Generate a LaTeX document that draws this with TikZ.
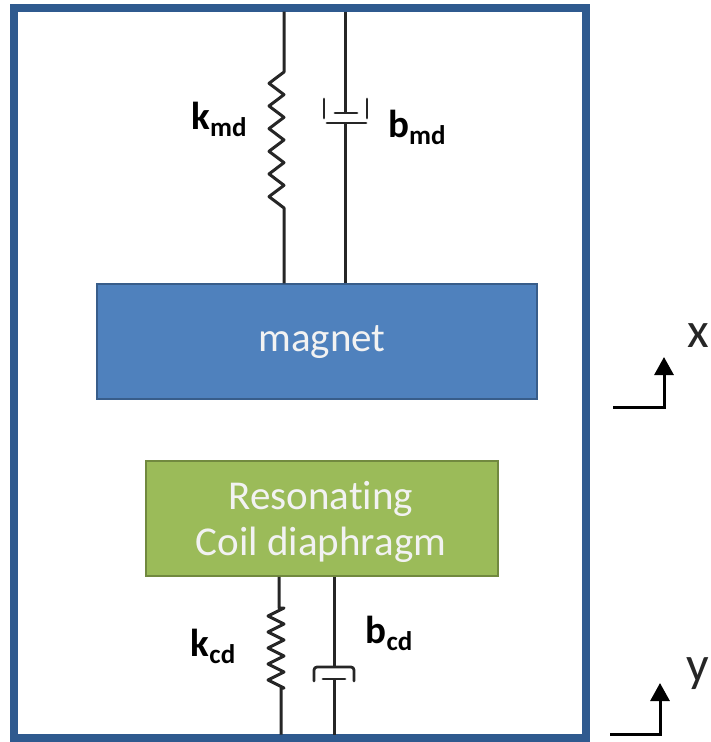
\documentclass[tikz,border=0pt]{standalone}
\usepackage{fontspec}
\setmainfont{Carlito}[Ligatures=CommonOff]
\usetikzlibrary{arrows.meta}
\definecolor{framecol}{HTML}{2F5A8F}
\definecolor{magnetcol}{HTML}{4F81BD}
\definecolor{magnetline}{HTML}{385D8A}
\definecolor{coilcol}{HTML}{9BBB59}
\definecolor{coilline}{HTML}{71893F}
\newcommand{\sublabel}[2]{\textbf{#1\raisebox{-7pt}{\fontsize{27}{27}\selectfont #2}}}
\tikzset{
	framebox/.style={draw=framecol,line width=8pt,minimum width=572.5pt,minimum height=730pt,inner sep=0,outer sep=-3.5pt},
	block/.style={line width=1.5pt,inner sep=0},
	blocktext/.style={inner sep=0,text=white!95!black,align=center,font=\fontsize{41}{46}\selectfont},
	edge/.style={color=black!85,line width=3pt,line join=round},
	thinedge/.style={color=black!85,line width=2.8pt,line cap=round,line join=round},
	axisedge/.style={->,>={Triangle[width=19pt,length=18pt]},color=black,line width=3pt,line join=miter},
	symlabel/.style={inner sep=0,font=\fontsize{39}{39}\selectfont},
	axislabel/.style={inner sep=0,font=\fontsize{50}{50}\selectfont,color=black!85}
}
\begin{document}
\begin{tikzpicture}[x=1pt,y=-1pt]
	\useasboundingbox (0,0) rectangle (711,742);
	
	\node[framebox] (Frame) at (299.75,373) {};
	\node[block,fill=magnetcol,draw=magnetline,minimum width=440pt,minimum height=115pt] (Magnet) at (317,341.5) {};
	\node[block,fill=coilcol,draw=coilline,minimum width=352pt,minimum height=115pt] (Coil) at (322,518.5) {};
	\node[blocktext] (MagnetText) at (322,342) {magnet};
	\node[blocktext] (CoilText) at (321,522) {Resonating\\Coil diaphragm};
	
	\node[symlabel] (Kmd) at (219,119) {\sublabel{k}{md}};
	\node[symlabel] (Bmd) at (417,127) {\sublabel{b}{md}};
	\node[symlabel] (Kcd) at (213,646) {\sublabel{k}{cd}};
	\node[symlabel] (Bcd) at (389,633) {\sublabel{b}{cd}};
	\node[axislabel] (X) at (698,336) {x};
	\node[axislabel] (Y) at (698,674) {y};
	
	\coordinate (KmdA) at (284,72);
	\coordinate (KmdB) at (284,208);
	\coordinate (BmdA) at (345,113);
	\coordinate (BmdB) at (345,123);
	\coordinate (KcdA) at (284,608);
	\coordinate (KcdB) at (281,688);
	\coordinate (BcdA) at (334,667);
	\coordinate (BcdB) at (334,679);
	
	\draw[edge] (Frame.north -| KmdA) -- (KmdA) foreach \i in {1,...,6} { -- ++(-15,11.33) -- ++(15,11.33)} -- (Magnet.north -| KmdB);
	\draw[edge] (Frame.north -| BmdA) -- (BmdA);
	\draw[edge] (BmdB) -- (Magnet.north -| BmdB);
	\draw[thinedge] (335,113) -- (357,113);
	\draw[thinedge] (324,99) -- (324,118);
	\draw[thinedge] (367,99) -- (367,118);
	\draw[thinedge] (327,123) -- (366,123);
	
	\draw[edge] (Coil.south -| 279,0) -- (279,608) -- (KcdA) foreach \i in {1,...,5} { -- ++(-16,8) -- ++(16,8)} -- (KcdB) -- (Frame.south -| KcdB);
	\draw[edge] (Coil.south -| BcdA) -- (BcdA);
	\draw[edge] (BcdB) -- (Frame.south -| BcdB);
	\draw[thinedge,rounded corners=3pt] (314,681) -- (314,667) -- (354,667) -- (354,681);
	\draw[thinedge] (323,679) -- (345,679);
	
	\coordinate (XA) at (613,407);
	\coordinate (XB) at (664,357);
	\coordinate (YA) at (610,734);
	\coordinate (YB) at (660,683);
	\draw[axisedge] (XA) -- (XA -| XB) -- (XB);
	\draw[axisedge] (YA) -- (YA -| YB) -- (YB);
\end{tikzpicture}
\end{document}
